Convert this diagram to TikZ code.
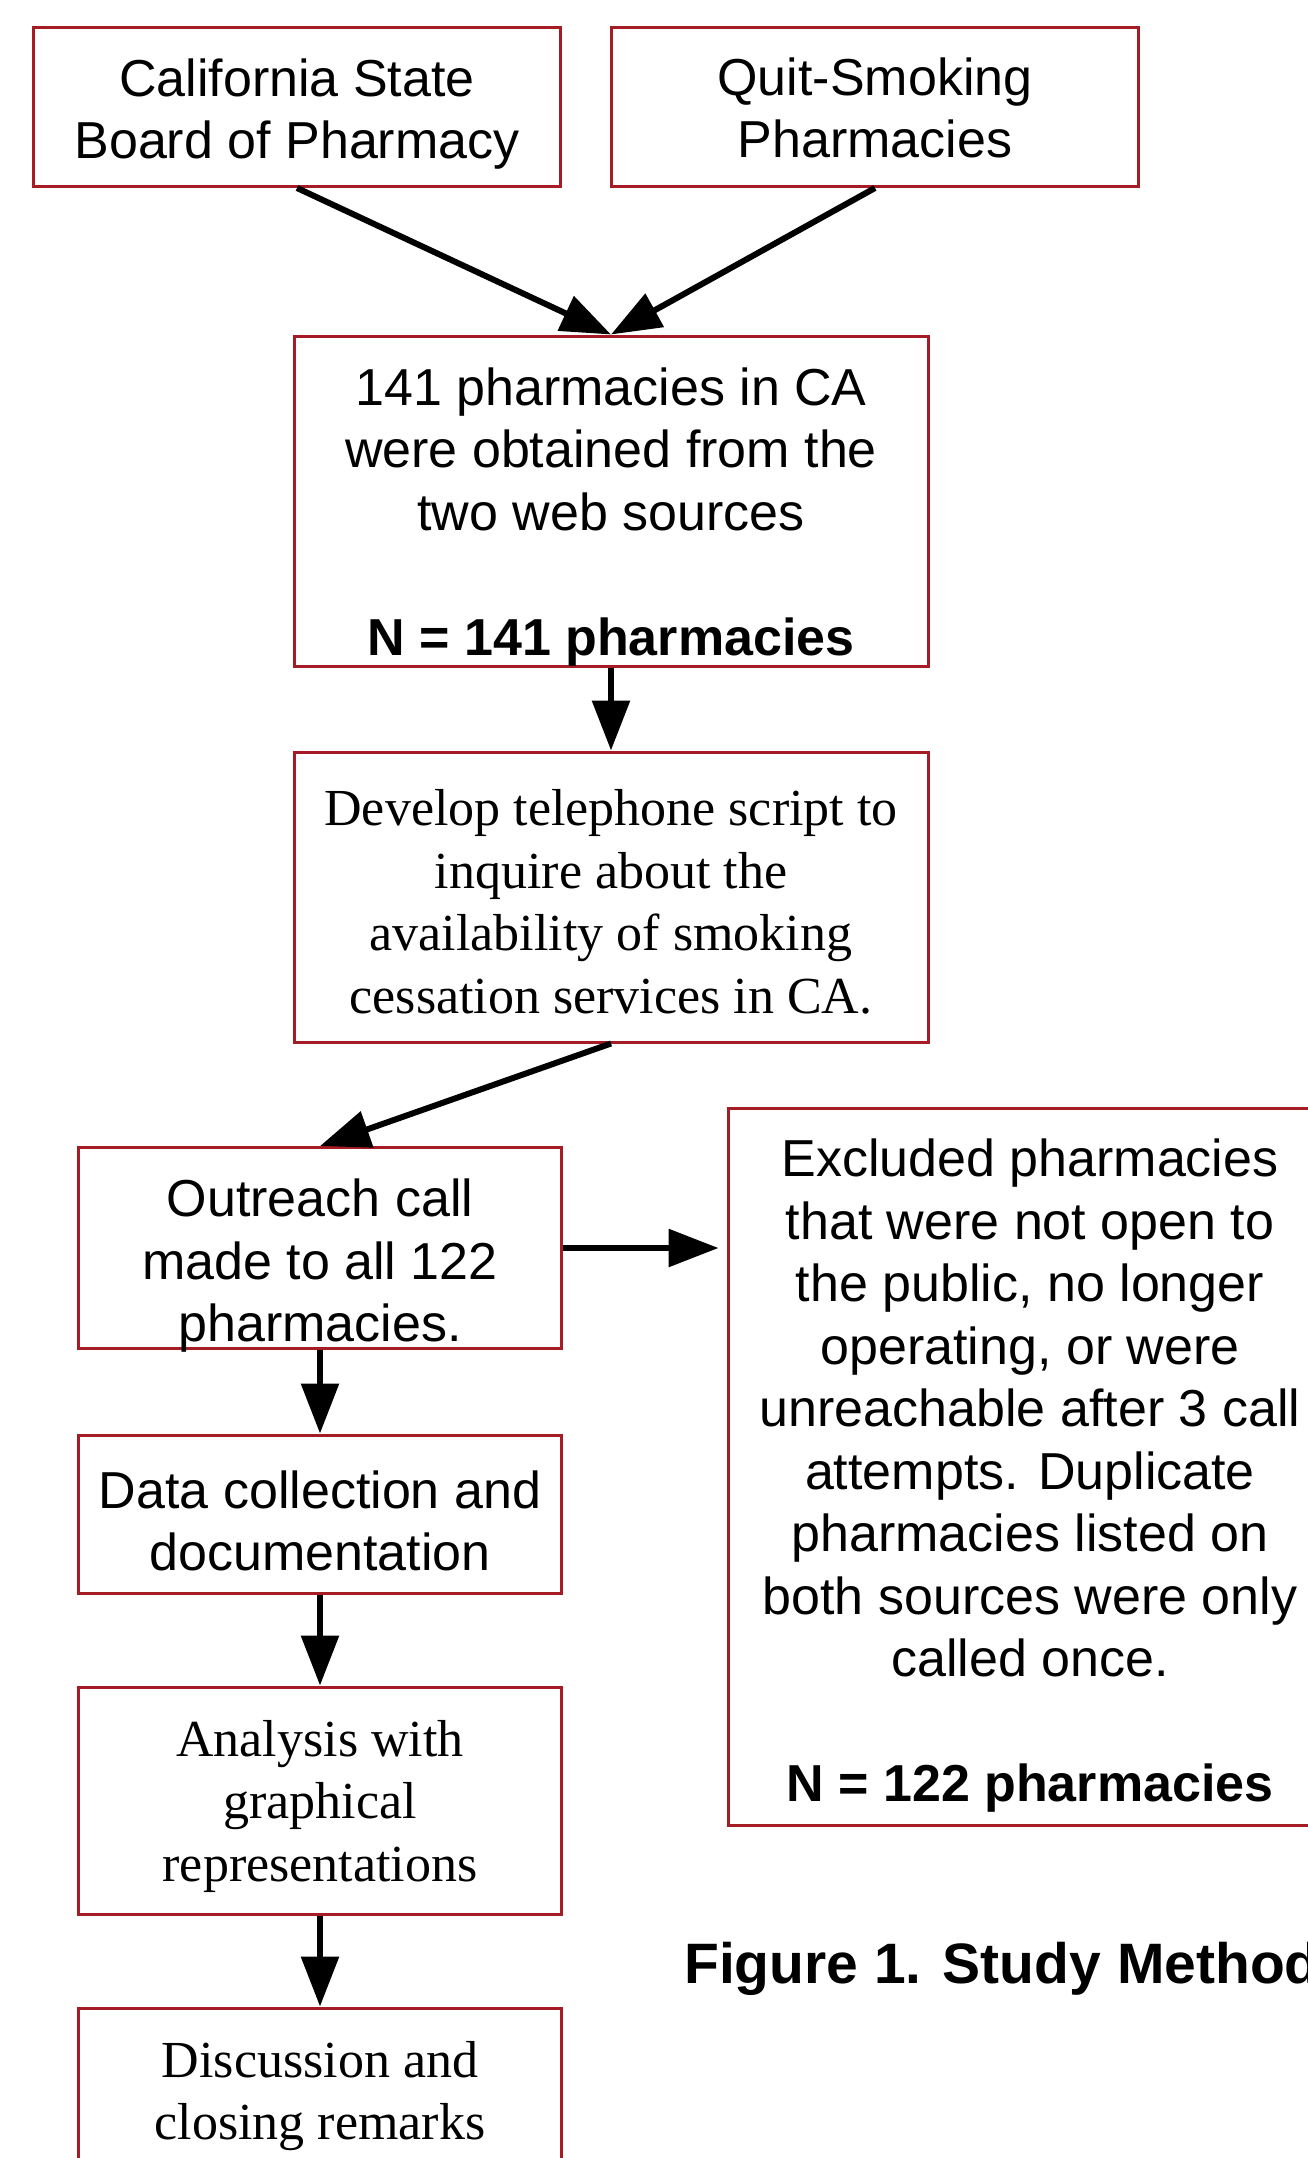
\documentclass[tikz,border=0pt]{standalone}
\usepackage{fontspec}
\setmainfont{Liberation Sans}
\newfontfamily\serifff{Liberation Serif}
\usetikzlibrary{arrows.meta}
\definecolor{boxred}{RGB}{165,28,36}
\begin{document}
\begin{tikzpicture}[x=1pt,y=-1pt,
  box/.style={draw=boxred, line width=3pt, rectangle, inner sep=0pt},
  txt/.style={align=center, inner sep=0pt, font=\fontsize{52}{62.5}\selectfont},
  serif/.style={align=center, inner sep=0pt, font=\serifff\fontsize{52}{62.5}\selectfont},
  arr/.style={line width=6pt, -{Triangle[length=50pt,width=37pt]}},
]
\path[use as bounding box, clip] (0,0) rectangle (1308,2158);
\fill[white] (0,0) rectangle (1308,2158);

% boxes
\node[box, minimum width=527pt, minimum height=159pt] (b1) at (297,107) {};
\node[box, minimum width=527pt, minimum height=159pt] (b2) at (875,107) {};
\node[box, minimum width=634pt, minimum height=330pt] (b3) at (611,501) {};
\node[box, minimum width=634pt, minimum height=290pt] (b4) at (611,897) {};
\node[box, minimum width=483pt, minimum height=201pt] (b5) at (320,1248) {};
\node[box, minimum width=483pt, minimum height=158pt] (b6) at (320,1514) {};
\node[box, minimum width=483pt, minimum height=227pt] (b7) at (320,1800.5) {};
\node[box, minimum width=483pt, minimum height=159pt] (b8) at (320,2087.5) {};
\node[box, minimum width=604pt, minimum height=717pt] (b9) at (1030,1467) {};

% texts
\node[txt] (t1) at (297,114) {California State\\Board of Pharmacy};
\node[txt] (t2) at (875,108) {Quit-Smoking\\Pharmacies};
\node[txt] (t3) at (611,517) {141 pharmacies in CA\\were obtained from the\\two web sources\\\mbox{}\\\textbf{N = 141 pharmacies}};
\node[serif] (t4) at (611,902) {Develop telephone script to\\inquire about the\\availability of smoking\\cessation services in CA.};
\node[txt] (t5) at (320,1266) {Outreach call\\made to all 122\\pharmacies.};
\node[txt] (t6) at (320,1521) {Data collection and\\documentation};
\node[serif] (t7) at (320,1806) {Analysis with\\graphical\\representations};
\node[serif] (t8) at (320,2096) {Discussion and\\closing remarks};
\node[txt] (t9) at (1030,1476) {Excluded pharmacies\\that were not open to\\the public, no longer\\operating, or were\\unreachable after 3 call\\attempts. Duplicate\\pharmacies listed on\\both sources were only\\called once.\\\mbox{}\\\textbf{N = 122 pharmacies}};
\node[anchor=base west, inner sep=0pt, font=\bfseries\fontsize{57}{68}\selectfont] (cap) at (684,1983) {Figure 1. Study Methodology};

% connectors
\draw[arr] (b1.south) -- (b3.north);
\draw[arr] (b2.south) -- (b3.north);
\draw[arr] (b3.south) -- (b4.north);
\draw[arr] (b4.south) -- (b5.north);
\draw[arr, shorten >=8pt] (b5.east) -- (b5.east -| b9.west);
\draw[arr] (b5.south) -- (b6.north);
\draw[arr] (b6.south) -- (b7.north);
\draw[arr] (b7.south) -- (b8.north);
\end{tikzpicture}
\end{document}
